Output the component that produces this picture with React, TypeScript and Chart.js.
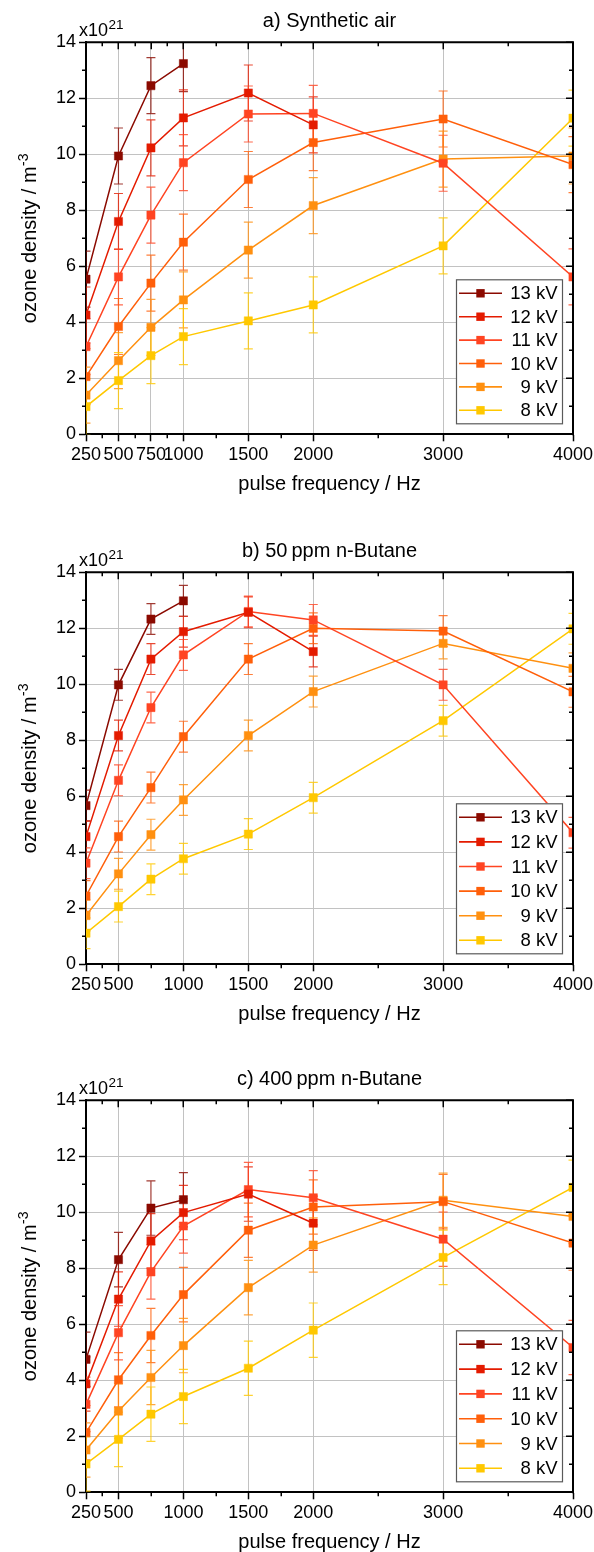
import React, { useEffect, useRef } from 'react';
import { Chart, registerables } from 'chart.js';

Chart.register(...registerables);

const FONT = '"Liberation Sans", Arial, Helvetica, sans-serif';

// ---------- data ----------
const FREQUENCIES = [250, 500, 750, 1000, 1500, 2000, 3000, 4000];
const VOLTAGE_LABELS = ['13 kV', '12 kV', '11 kV', '10 kV', '9 kV', '8 kV'];
const SERIES_COLORS = ['#8b0a00', '#e41b00', '#ff4422', '#ff5f0a', '#ff9010', '#ffc800'];

// a) Synthetic air (x10^21 m^-3)
const AIR_13KV = [5.54, 9.94, 12.45, 13.24];
const AIR_12KV = [4.26, 7.6, 10.23, 11.3, 12.19, 11.05];
const AIR_11KV = [3.13, 5.62, 7.83, 9.7, 11.44, 11.46, 9.68, 5.62];
const AIR_10KV = [2.06, 3.85, 5.4, 6.86, 9.1, 10.42, 11.26, 9.63];
const AIR_9KV = [1.4, 2.63, 3.82, 4.8, 6.58, 8.17, 9.83, 9.94];
const AIR_8KV = [0.99, 1.92, 2.81, 3.49, 4.05, 4.62, 6.73, 11.29];

// b) 50 ppm n-Butane
const B50_13KV = [5.67, 9.98, 12.33, 12.98];
const B50_12KV = [4.56, 8.17, 10.9, 11.88, 12.57, 11.17];
const B50_11KV = [3.61, 6.57, 9.17, 11.05, 12.6, 12.3, 9.98, 4.7];
const B50_10KV = [2.44, 4.56, 6.31, 8.13, 10.9, 12.0, 11.9, 9.73];
const B50_9KV = [1.74, 3.23, 4.63, 5.87, 8.17, 9.74, 11.46, 10.57];
const B50_8KV = [1.11, 2.06, 3.04, 3.77, 4.65, 5.95, 8.7, 11.98];

// c) 400 ppm n-Butane
const B400_13KV = [4.75, 8.31, 10.15, 10.45];
const B400_12KV = [3.87, 6.9, 8.98, 9.99, 10.65, 9.61];
const B400_11KV = [3.14, 5.7, 7.87, 9.51, 10.81, 10.52, 9.04, 5.17];
const B400_10KV = [2.13, 4.02, 5.6, 7.06, 9.36, 10.19, 10.38, 8.9];
const B400_9KV = [1.51, 2.9, 4.1, 5.24, 7.31, 8.83, 10.43, 9.85];
const B400_8KV = [1.01, 1.89, 2.79, 3.42, 4.43, 5.79, 8.39, 10.89];

const PANEL_TITLES = ['a) Synthetic air', 'b) 50\u2009ppm n-Butane', 'c) 400\u2009ppm n-Butane'];
const ERROR_HALF_WIDTHS = [1.0, 0.55, 0.97];

const X_TICKS_A = [250, 500, 750, 1000, 1500, 2000, 3000, 4000];
const X_TICKS_BC = [250, 500, 1000, 1500, 2000, 3000, 4000];
const X_MINOR_A = [375, 625, 875, 1250, 1750, 2500, 3500];
const X_MINOR_BC = [375, 750, 1250, 1750, 2500, 3500];
const Y_MINOR = [1, 3, 5, 7, 9, 11, 13];

const X_TITLE = 'pulse frequency / Hz';
const Y_TITLE = 'ozone density / m';
const Y_TITLE_SUP = '-3';
const SCALE_BASE = 'x10';
const SCALE_EXP = '21';

// ---------- helpers ----------
function rgba(hex: string, a: number) {
  const n = parseInt(hex.slice(1), 16);
  return `rgba(${(n >> 16) & 255},${(n >> 8) & 255},${n & 255},${a})`;
}

type PanelDef = {
  top: number;
  height: number;
  title: string;
  series: number[][];
  err: number;
  xTicks: number[];
  xMinor: number[];
  legendH: number;
};

const PLOT_TOP = 42.3;
const PLOT_BOTTOM = 434.3;
const PLOT_LEFT = 86;
const PLOT_RIGHT = 573;

function makePlugin(p: PanelDef) {
  return {
    id: 'decor',
    beforeDatasetsDraw(chart: any) {
      const { ctx, chartArea: ca } = chart;
      const xs = chart.scales.x;
      const ys = chart.scales.y;
      ctx.save();
      ctx.beginPath();
      ctx.rect(ca.left, ca.top, ca.right - ca.left, ca.bottom - ca.top);
      ctx.clip();
      chart.data.datasets.forEach((ds: any, i: number) => {
        ctx.strokeStyle = rgba(SERIES_COLORS[i], 0.8);
        ctx.lineWidth = 1.2;
        ds.data.forEach((pt: any) => {
          const px = xs.getPixelForValue(pt.x);
          const yt = ys.getPixelForValue(pt.y + p.err);
          const yb = ys.getPixelForValue(pt.y - p.err);
          ctx.beginPath();
          ctx.moveTo(px, yt);
          ctx.lineTo(px, yb);
          ctx.moveTo(px - 4.5, yt);
          ctx.lineTo(px + 4.5, yt);
          ctx.moveTo(px - 4.5, yb);
          ctx.lineTo(px + 4.5, yb);
          ctx.stroke();
        });
      });
      ctx.restore();
    },
    afterDraw(chart: any) {
      const { ctx, chartArea: ca } = chart;
      const xs = chart.scales.x;
      const ys = chart.scales.y;
      ctx.save();
      // frame top & right
      ctx.strokeStyle = '#000';
      ctx.lineWidth = 2;
      ctx.beginPath();
      ctx.moveTo(ca.left - 1, ca.top);
      ctx.lineTo(ca.right, ca.top);
      ctx.lineTo(ca.right, ca.bottom + 1);
      ctx.stroke();
      // ticks
      ctx.lineWidth = 1.5;
      ctx.beginPath();
      p.xTicks.forEach((v) => {
        const px = Math.round(xs.getPixelForValue(v)) + 0.25;
        ctx.moveTo(px, ca.top);
        ctx.lineTo(px, ca.top + 7);
      });
      p.xMinor.forEach((v) => {
        const px = Math.round(xs.getPixelForValue(v)) + 0.25;
        ctx.moveTo(px, ca.top);
        ctx.lineTo(px, ca.top + 4);
        ctx.moveTo(px, ca.bottom);
        ctx.lineTo(px, ca.bottom + 4);
      });
      for (let v = 0; v <= 14; v += 2) {
        const py = Math.round(ys.getPixelForValue(v)) + 0.25;
        ctx.moveTo(ca.right, py);
        ctx.lineTo(ca.right - 7, py);
      }
      Y_MINOR.forEach((v) => {
        const py = Math.round(ys.getPixelForValue(v)) + 0.25;
        ctx.moveTo(ca.right, py);
        ctx.lineTo(ca.right - 4, py);
        ctx.moveTo(ca.left, py);
        ctx.lineTo(ca.left - 4, py);
      });
      ctx.stroke();

      // titles
      ctx.fillStyle = '#000';
      ctx.textBaseline = 'alphabetic';
      ctx.font = `20px ${FONT}`;
      ctx.textAlign = 'center';
      const cx = (ca.left + ca.right) / 2;
      ctx.fillText(p.title, cx, ca.top - 15.6);
      ctx.fillText(X_TITLE, cx, ca.bottom + 55.4);

      // x10^21
      ctx.textAlign = 'left';
      ctx.font = `18px ${FONT}`;
      const bx = 79;
      ctx.fillText(SCALE_BASE, bx, ca.top - 6);
      const bw = ctx.measureText(SCALE_BASE).width;
      ctx.font = `13.5px ${FONT}`;
      ctx.fillText(SCALE_EXP, bx + bw + 0.5, ca.top - 13);

      // y title
      ctx.save();
      ctx.translate(36, (ca.top + ca.bottom) / 2);
      ctx.rotate(-Math.PI / 2);
      ctx.font = `20px ${FONT}`;
      const w1 = ctx.measureText(Y_TITLE).width;
      ctx.font = `14px ${FONT}`;
      const w2 = ctx.measureText(Y_TITLE_SUP).width;
      const total = w1 + w2 + 0.5;
      ctx.font = `20px ${FONT}`;
      ctx.textAlign = 'left';
      ctx.fillText(Y_TITLE, -total / 2, 0);
      ctx.font = `14px ${FONT}`;
      ctx.fillText(Y_TITLE_SUP, -total / 2 + w1 + 0.5, -8);
      ctx.restore();

      // legend
      const lw = 107;
      const lh = p.legendH;
      const lr = ca.right - 10;
      const lb = ca.bottom - 10;
      const ll = lr - lw;
      const lt = lb - lh;
      ctx.fillStyle = '#fff';
      ctx.fillRect(ll, lt, lw, lh);
      ctx.strokeStyle = '#5a5a5a';
      ctx.lineWidth = 1.2;
      ctx.strokeRect(ll + 0.5, lt + 0.5, lw - 1, lh - 1);
      const step = (lh - 28) / 5;
      chart.data.datasets.forEach((ds: any, i: number) => {
        const yy = lt + 14 + i * step;
        const col = SERIES_COLORS[i];
        ctx.strokeStyle = col;
        ctx.lineWidth = 1.6;
        ctx.beginPath();
        ctx.moveTo(ll + 3, yy);
        ctx.lineTo(ll + 46, yy);
        ctx.stroke();
        ctx.fillStyle = col;
        ctx.fillRect(ll + 24.5 - 4.2, yy - 4.2, 8.4, 8.4);
        ctx.fillStyle = '#000';
        ctx.font = `18.5px ${FONT}`;
        ctx.textAlign = 'right';
        ctx.textBaseline = 'middle';
        ctx.fillText(ds.label, lr - 5.5, yy + 1);
      });
      ctx.restore();
    },
  };
}

function Panel({ def }: { def: PanelDef }) {
  const ref = useRef<HTMLCanvasElement>(null);
  useEffect(() => {
    const canvas = ref.current;
    if (!canvas) return;
    const datasets = def.series.map((vals, i) => ({
      label: VOLTAGE_LABELS[i],
      data: vals.map((v, j) => ({ x: FREQUENCIES[j], y: v })),
      borderColor: SERIES_COLORS[i],
      backgroundColor: SERIES_COLORS[i],
      borderWidth: 1.5,
      pointStyle: 'rect',
      pointRadius: 5.8,
      pointBorderWidth: 0.8,
      pointBorderColor: rgba(SERIES_COLORS[i], 0.6),
      pointBackgroundColor: SERIES_COLORS[i],
      tension: 0,
      clip: 0,
    }));
    const tickFont = { family: FONT, size: 18 };
    const chart = new Chart(canvas, {
      type: 'line',
      data: { datasets } as any,
      options: {
        animation: false,
        responsive: false,
        maintainAspectRatio: false,
        devicePixelRatio: 1,
        layout: { padding: { left: 0, right: 594 - PLOT_RIGHT, top: PLOT_TOP, bottom: 0 } },
        plugins: { legend: { display: false }, tooltip: { enabled: false }, title: { display: false } },
        scales: {
          x: {
            type: 'linear',
            min: 250,
            max: 4000,
            afterBuildTicks: (s: any) => {
              s.ticks = def.xTicks.map((v) => ({ value: v }));
            },
            afterFit: (s: any) => {
              s.height = def.height - PLOT_BOTTOM;
              s.paddingLeft = 0;
              s.paddingRight = 0;
            },
            grid: { color: '#c2c2c2', lineWidth: 1, tickColor: '#000', tickLength: 7, tickWidth: 1.5 },
            border: { color: '#000', width: 2 },
            ticks: {
              autoSkip: false,
              maxRotation: 0,
              minRotation: 0,
              padding: 3,
              color: '#000',
              font: tickFont,
              callback: (v: any) => String(v),
            },
          },
          y: {
            type: 'linear',
            min: 0,
            max: 14,
            afterFit: (s: any) => {
              s.width = PLOT_LEFT;
              s.paddingTop = 0;
              s.paddingBottom = 0;
            },
            grid: { color: '#c2c2c2', lineWidth: 1, tickColor: '#000', tickLength: 7, tickWidth: 1.5 },
            border: { color: '#000', width: 2 },
            ticks: {
              stepSize: 2,
              padding: 3,
              color: '#000',
              font: tickFont,
              callback: (v: any) => String(v),
            },
          },
        },
      } as any,
      plugins: [makePlugin(def)],
    });
    return () => chart.destroy();
  }, []);
  return (
    <div style={{ position: 'absolute', left: 0, top: def.top, width: 594, height: def.height, overflow: 'hidden' }}>
      <canvas ref={ref} width={594} height={def.height} style={{ display: 'block', width: 594, height: def.height }} />
    </div>
  );
}

const PANELS: PanelDef[] = [
  {
    top: 0,
    height: 530,
    title: PANEL_TITLES[0],
    series: [AIR_13KV, AIR_12KV, AIR_11KV, AIR_10KV, AIR_9KV, AIR_8KV],
    err: ERROR_HALF_WIDTHS[0],
    xTicks: X_TICKS_A,
    xMinor: X_MINOR_A,
    legendH: 145,
  },
  {
    top: 530,
    height: 528,
    title: PANEL_TITLES[1],
    series: [B50_13KV, B50_12KV, B50_11KV, B50_10KV, B50_9KV, B50_8KV],
    err: ERROR_HALF_WIDTHS[1],
    xTicks: X_TICKS_BC,
    xMinor: X_MINOR_BC,
    legendH: 151,
  },
  {
    top: 1058,
    height: 494,
    title: PANEL_TITLES[2],
    series: [B400_13KV, B400_12KV, B400_11KV, B400_10KV, B400_9KV, B400_8KV],
    err: ERROR_HALF_WIDTHS[2],
    xTicks: X_TICKS_BC,
    xMinor: X_MINOR_BC,
    legendH: 152,
  },
];

export default function App() {
  return (
    <div style={{ position: 'absolute', left: 0, top: 0, width: 594, height: 1552, overflow: 'hidden', background: '#fff' }}>
      {PANELS.map((d, i) => (
        <Panel key={i} def={d} />
      ))}
    </div>
  );
}
